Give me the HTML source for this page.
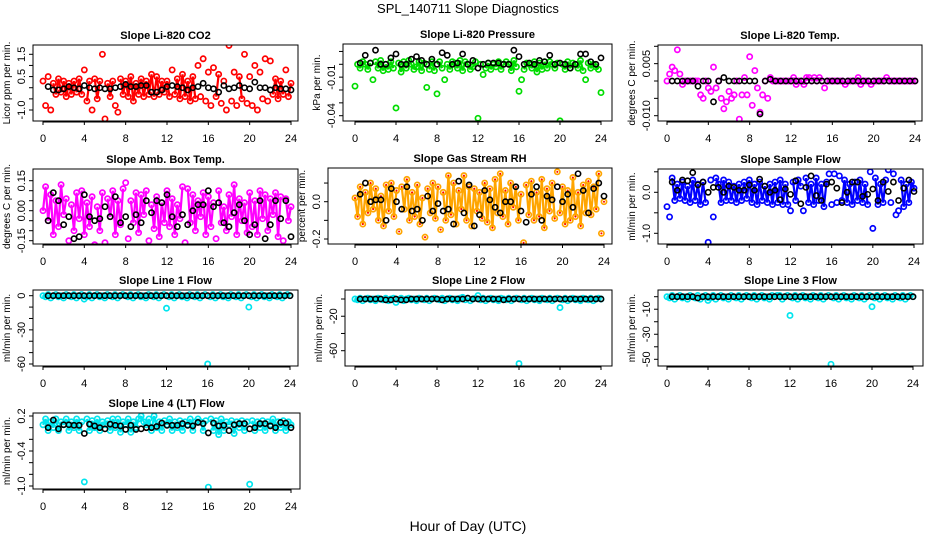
<!DOCTYPE html>
<html><head><meta charset="utf-8">
<style>
html,body{margin:0;padding:0;background:#fff;}
svg{display:block;font-family:"Liberation Sans",sans-serif;}
</style></head>
<body>
<svg id="chart" width="936" height="540" viewBox="0 0 936 540" xmlns="http://www.w3.org/2000/svg">
<rect x="0" y="0" width="936" height="540" fill="#fff"/>
<text x="468" y="13" text-anchor="middle" font-size="13">SPL_140711  Slope Diagnostics</text>
<text x="468" y="531" text-anchor="middle" font-size="14">Hour of Day (UTC)</text>
</svg>
<script>
// ---- data ----
const xTicks = [0,4,8,12,16,20,24];

const co2Colored = [0.3,-0.8,0.5,-1.0,0.2,-0.3,0.4,-0.2,0.3,-0.4,0.2,-0.3,0.3,-0.2,0.4,-0.3,
0.8,-0.6,0.3,-1.0,0.4,-0.5,0.3,1.5,-1.4,0.2,-0.4,0.3,-0.8,-1.1,0.4,-0.3,
0.3,-0.4,0.5,-0.6,0.2,-0.3,0.4,-0.4,0.3,-0.3,0.6,-0.4,0.5,-0.3,0.3,-0.2,
0.3,-0.4,0.8,-0.3,0.4,-0.5,0.6,-0.4,0.3,-0.6,0.5,-0.5,1.0,-0.4,1.3,-0.6,
0.7,-0.8,0.9,-0.4,0.6,-0.7,0.3,-1.0,1.9,-0.6,0.7,-0.8,0.5,-0.5,1.5,-0.7,
0.5,-0.8,1.0,-1.0,0.7,-0.5,1.3,-0.6,1.2,-0.3,0.4,-0.5,0.3,-0.3,0.8,-0.4,0.2];
const co2Black = [0.05,-0.1,-0.1,-0.05,0.05,0,-0.05,0.1,0,-0.05,0,-0.05,-0.05,0,0.05,0.15,0.05,0.05,0.1,0.1,-0.2,-0.2,-0.1,0.05,0.1,0.05,0,-0.1,0,0.05,0.2,0,-0.05,-0.2,0.1,-0.05,0,0.1,0,-0.05,0.25,0,0,-0.1,0,-0.05,-0.05,-0.1];

const presColored = [-0.017,0.0,-0.003,0.002,0.0,-0.004,0.001,-0.012,0.002,-0.003,0.003,-0.005,0.0,-0.004,0.002,-0.003,
-0.034,0.001,-0.006,0.002,-0.003,0.003,0.0,-0.004,-0.002,0.002,-0.005,0.001,-0.018,-0.004,0.002,-0.005,
-0.023,0.002,-0.003,-0.012,0.0,-0.004,0.002,0.001,-0.003,0.003,-0.005,0.002,0.0,-0.004,-0.002,0.002,
-0.042,0.0,-0.008,-0.003,0.001,-0.004,0.0,-0.002,0.002,-0.004,0.0,0.002,0.0,-0.005,0.003,-0.002,
-0.021,-0.012,-0.004,0.001,0.0,-0.003,0.002,-0.006,0.001,-0.004,0.002,-0.003,0.002,0.0,-0.003,0.001,
-0.044,0.0,-0.004,0.002,-0.003,0.001,0.0,-0.003,0.003,-0.005,-0.012,0.001,-0.003,0.0,-0.002,-0.004,-0.022];
const presBlack = [0.001,0.007,0.001,0.011,0.0,0.0,0.005,0.008,0.0,0.0,0.004,0.006,0.003,0.0,0.004,0.0,0.009,0.007,0.0,0.001,0.008,0.0,0.003,-0.003,0.0,0.001,0.001,0.001,0.0,0.0,0.011,0.006,0.0,0.001,0.0,0.003,0.002,0.007,0.0,0.001,0.0,-0.003,0.0,0.008,0.008,0.002,0.0,0.005];

const ltempColored = [0.0,0.002,0.004,0.003,0.009,0.002,-0.001,0.0,0.0,0.0,0.0,0.0,0.0,-0.004,-0.005,0.0,
-0.002,-0.003,0.004,-0.002,0.0,-0.005,-0.008,-0.006,-0.003,-0.005,-0.004,0.0,-0.011,-0.004,0.001,-0.004,
0.007,-0.007,0.003,-0.002,-0.009,-0.004,0.0,-0.005,0.001,0.0,0.0,0.0,0.0,0.0,0.0,0.0,
0.0,0.001,-0.001,0.0,0.0,-0.001,0.001,0.001,0.0,0.001,0.0,0.001,0.0,-0.002,0.0,0.0,
0.0,0.0,0.0,0.0,0.0,-0.001,0.0,0.0,0.0,0.0,0.001,-0.001,0.0,0.0,0.0,-0.001,
0.0,0.0,0.0,0.0,0.0,0.001,0.0,0.0,0.0,0.0,0.0,0.0,0.0,0.0,0.0,0.0,0.0];
const ltempBlack = [0,0,0,0,0,-0.0015,0,0,-0.006,0,0.001,0,0,0,0,0,0,-0.0095,0,0.0005,0,0,0,0,0,0,0,0,0,0,0,0,0,0,0,0,0,0,0,0,0,0,0,0,0,0,0,0];

const ambColored = [0.0,0.12,-0.05,0.08,-0.12,0.05,-0.08,0.13,-0.02,0.06,-0.15,0.03,-0.1,0.09,-0.04,0.1,
-0.12,0.04,-0.08,0.07,-0.17,0.02,-0.1,0.09,-0.16,0.06,-0.03,0.1,-0.12,0.05,-0.07,0.11,
0.14,-0.14,0.05,-0.06,0.09,-0.11,0.08,-0.02,0.1,-0.15,0.03,-0.09,0.07,-0.13,0.04,-0.06,
0.1,-0.08,0.06,-0.12,0.03,-0.04,0.12,-0.16,0.11,-0.06,0.08,-0.1,0.05,-0.03,0.09,-0.12,
0.07,-0.08,0.04,-0.14,0.1,-0.06,0.02,-0.1,0.08,-0.03,0.13,-0.12,0.06,-0.05,0.04,-0.11,
0.09,-0.08,0.05,-0.12,0.1,-0.04,0.08,-0.1,0.06,-0.02,0.09,-0.13,0.07,-0.15,0.06,-0.05,0.02];
const ambBlack = [-0.05,0.09,0.05,-0.07,-0.03,-0.14,-0.13,0.08,-0.03,-0.05,-0.04,0.02,-0.03,0.07,-0.06,-0.03,-0.08,-0.02,-0.06,0.05,-0.01,0.05,0.04,0.08,-0.03,-0.08,-0.02,-0.07,0.0,0.03,0.03,0.1,0.02,0.04,-0.06,-0.08,-0.01,0.03,-0.05,-0.12,-0.07,0.05,-0.14,-0.07,0.05,-0.04,0.05,-0.13];

const rhColored = [0.02,-0.08,0.08,-0.12,0.05,-0.06,0.1,-0.04,0.07,-0.1,0.03,-0.13,0.09,-0.05,0.1,-0.08,
0.06,-0.16,0.08,-0.04,0.12,-0.1,0.05,-0.08,0.09,-0.12,0.02,-0.19,0.07,-0.06,0.1,-0.09,
0.08,-0.15,0.05,-0.1,0.14,-0.07,0.1,-0.12,0.06,-0.04,0.14,-0.1,0.08,-0.13,0.07,-0.05,
0.05,-0.09,0.1,-0.11,0.07,-0.14,0.12,-0.06,0.15,-0.08,0.06,-0.12,0.1,-0.03,0.08,-0.1,
0.04,-0.22,0.09,-0.07,0.11,-0.1,0.05,-0.08,0.12,-0.14,0.07,-0.05,0.1,-0.09,0.16,-0.06,
0.08,-0.12,0.06,-0.1,0.13,-0.08,0.05,-0.13,0.09,-0.06,0.11,-0.07,0.08,-0.04,0.15,-0.17,0.0];
const rhBlack = [0.04,0.1,0.0,0.01,0.01,-0.1,0.07,0.0,-0.04,0.08,-0.05,-0.04,-0.1,0.03,-0.05,-0.01,-0.05,-0.04,-0.12,0.11,-0.06,0.09,-0.13,-0.07,0.06,0.01,-0.03,-0.06,0.0,0.0,0.08,-0.05,-0.11,0.04,0.08,-0.1,0.03,0.01,0.08,0.0,0.04,-0.03,0.15,0.06,-0.06,0.07,0.1,0.03];

const flowColored = [-0.35,-0.6,0.35,-0.2,0.2,-0.15,0.25,-0.2,0.15,-0.25,0.3,-0.2,0.2,-0.3,0.25,-0.25,
-1.22,0.3,-0.6,0.35,0.2,-0.25,0.3,-0.2,0.25,-0.2,0.15,-0.25,0.2,-0.2,0.25,-0.15,
0.3,-0.25,0.2,-0.3,0.25,-0.2,0.15,-0.25,0.2,-0.3,0.25,-0.25,0.3,-0.3,0.2,-0.3,
-0.45,0.25,-0.2,0.3,0.15,-0.45,0.35,-0.25,0.2,-0.3,0.35,-0.2,0.2,-0.35,0.25,0.45,
-0.3,0.45,-0.25,0.4,-0.2,0.3,-0.25,0.2,-0.3,0.25,-0.2,0.3,-0.25,0.2,-0.3,0.5,
-0.88,0.35,-0.3,0.2,-0.25,0.3,0.55,-0.25,0.45,-0.55,-0.45,0.3,-0.35,0.2,-0.25,0.25,0.1];
const flowBlack = [0.25,0.05,0.3,0.28,0.48,0.18,0.25,0.0,0.12,0.12,0.0,0.15,0.12,0.05,0.05,0.18,0.05,0.32,0.15,0.0,0.05,-0.18,0.08,-0.05,0.28,-0.28,0.12,0.4,-0.08,-0.2,0.2,0.25,0.1,-0.25,0.0,0.25,0.25,-0.1,-0.05,0.08,-0.2,0.25,0.02,0.25,-0.2,0.1,0.3,0.02];

const line1Colored = [0,-1,1,-2,0,1,-1,0,-2,1,0,-1,1,-2,0,1,
-3,-1,1,-2,0,1,-1,0,-2,1,0,-1,1,-2,0,1,
0,-1,1,-2,0,1,-1,0,-2,1,0,-1,1,-2,0,1,
-11,-1,1,-2,0,1,-1,0,-2,1,0,-1,1,-2,0,1,
-60,-1,1,-2,0,1,-1,0,-2,1,0,-1,1,-2,0,1,
-10,-1,1,-2,0,1,-1,0,-2,1,0,-1,1,-2,0,1,0];
const line1Black = [0,0,0,0,0,0,0,0,0,0,0,0,0,0,0,0,0,0,0,0,0,0,0,0,0,0,0,0,0,0,0,0,0,0,0,0,0,0,0,0,0,0,0,0,0,0,0,0];

const line2Colored = [0,-1,1,-2,0,1,-1,0,-2,1,0,-1,1,-2,0,1,
-4,-1,1,-2,0,1,-1,0,-2,1,0,-1,1,-2,0,1,
0,-1,1,-2,0,1,-1,0,-2,1,2,-1,1,-2,0,1,
4,-1,1,-2,0,1,-1,0,-2,1,0,-1,1,-2,0,1,
-75,-1,1,-2,0,1,-1,0,-2,1,0,-1,1,-2,0,1,
-10,-1,1,-2,0,1,-1,0,-2,1,0,-1,1,-2,0,1,0];
const line2Black = [0,0,0,0,0,-1,-1,0,-1,-1,0,0,0,0,0,0,-1,0,0,0,0,1,0,0,0,0,0,0,-1,0,0,0,0,0,0,0,0,0,0,0,0,0,0,0,0,0,0,0];

const line3Colored = [0,-1,1,-2,0,1,-1,0,-2,1,0,-1,1,-2,0,1,
-3,-1,1,-2,0,1,-1,0,-2,1,0,-1,1,-2,0,1,
0,-1,1,-2,0,1,-1,0,-2,1,0,1,1,-2,0,1,
-15,-1,1,-2,0,1,-1,0,-2,1,0,-1,1,-2,0,1,
-54,-1,1,-2,0,1,-1,0,-2,1,0,-1,1,-2,0,1,
-8,-1,1,-2,0,1,-1,0,-2,1,0,-1,1,-2,0,1,0];
const line3Black = [0,0,0,0,0,-1,0,0,0,0,0,0,0,0,0,0,0,0,0,0,0,0,0,0,0,0,0,0,0,0,0,0,0,0,0,0,0,0,0,0,0,0,0,0,0,0,0,0];

const line4Colored = [0.05,0.15,-0.05,0.1,0.0,0.15,-0.05,0.1,0.05,0.15,-0.05,0.1,0.0,0.15,-0.05,0.1,
-0.93,0.15,-0.05,0.12,0.0,0.15,-0.05,0.1,0.05,0.12,-0.05,0.15,0.0,0.15,-0.08,0.1,
0.05,0.15,-0.08,0.1,0.0,0.15,0.2,0.1,0.05,0.15,-0.05,0.2,0.0,0.1,-0.05,0.12,
0.05,0.15,-0.05,0.1,0.0,0.12,-0.05,0.1,0.05,0.15,-0.05,0.1,0.15,0.1,-0.05,0.12,
-1.02,0.15,-0.05,0.12,-0.12,0.15,-0.05,0.1,0.05,0.12,-0.1,0.1,0.0,0.12,-0.05,0.1,
-0.97,0.12,-0.05,0.1,0.0,0.12,-0.05,0.1,0.05,0.15,-0.05,0.1,0.0,0.12,-0.05,0.1,0.05];
const line4Black = [0.0,0.13,-0.02,0.05,0.05,0.04,0.04,-0.1,0.06,0.03,0.0,-0.02,0.06,0.04,0.03,-0.03,0.04,-0.03,-0.02,0.0,0.0,0.02,0.08,0.04,0.04,0.04,0.07,0.04,0.03,0.09,0.07,-0.09,0.08,0.03,0.04,-0.05,0.05,0.07,0.07,-0.02,0.0,0.07,0.07,0.03,0.0,0.09,0.08,0.0];

// ---- panel layout (positions/styles only) ----
const panels = [
 {id:'co2',title:'Slope Li-820 CO2',ylab:'Licor ppm per min.',l:33,r:298,t:45,b:121,x0:43,x24:291,v1:1.5,p1:54.3,v2:-1.0,p2:110,
  ticks:[-1,-0.5,0,0.5,1,1.5],labels:[[-1,'-1.0'],[0.5,'0.5'],[1.5,'1.5']],color:'#ff0000',band:[-0.65,0.65],colored:co2Colored,black:co2Black},
 {id:'pressure',title:'Slope Li-820 Pressure',ylab:'kPa per min.',l:343,r:612,t:44,b:121,x0:355,x24:601,v1:0,p1:64.3,v2:-0.04,p2:115.7,
  ticks:[0.01,0,-0.01,-0.02,-0.03,-0.04],labels:[[-0.01,'-0.01'],[-0.04,'-0.04']],color:'#00dd00',band:[-0.007,0.004],colored:presColored,black:presBlack},
 {id:'licor-temp',title:'Slope Li-820 Temp.',ylab:'degrees C per min.',l:658,r:922,t:45,b:121,x0:667,x24:915,v1:0,p1:81,v2:-0.01,p2:115.7,
  ticks:[0.01,0.005,0,-0.005,-0.01],labels:[[0.005,'0.005'],[-0.01,'-0.010']],color:'#ff00ff',band:[-0.0012,0.0012],colored:ltempColored,black:ltempBlack},
 {id:'amb-box-temp',title:'Slope Amb. Box Temp.',ylab:'degrees C per min.',l:33,r:298,t:169,b:244,x0:43,x24:291,v1:0,p1:210.7,v2:-0.15,p2:240.7,
  ticks:[-0.15,-0.1,-0.05,0,0.05,0.1,0.15],labels:[[-0.15,'-0.15'],[0,'0.00'],[0.15,'0.15']],color:'#ff00ff',band:[-0.13,0.13],colored:ambColored,black:ambBlack},
 {id:'gas-rh',title:'Slope Gas Stream RH',ylab:'percent per min.',l:328,r:612,t:168,b:244,x0:355,x24:604,v1:0,p1:201.7,v2:-0.2,p2:239,
  ticks:[-0.2,-0.1,0,0.1],labels:[[-0.2,'-0.2'],[0,'0.0']],color:'#ffa500',band:[-0.14,0.15],colored:rhColored,black:rhBlack},
 {id:'sample-flow',title:'Slope Sample Flow',ylab:'ml/min per min.',l:658,r:923,t:169,b:244,x0:667,x24:914,v1:0,p1:192.3,v2:-1.0,p2:233.3,
  ticks:[-1,-0.5,0,0.5],labels:[[-1,'-1.0'],[0,'0.0']],color:'#0000ff',band:[-0.36,0.36],colored:flowColored,black:flowBlack},
 {id:'line1-flow',title:'Slope Line 1 Flow',ylab:'ml/min per min.',l:33,r:298,t:290,b:366,x0:43,x24:290,v1:0,p1:295.7,v2:-60,p2:364,
  ticks:[0,-10,-20,-30,-40,-50,-60],labels:[[0,'0'],[-30,'-30'],[-60,'-60']],color:'#00e5ee',band:[-3,3],colored:line1Colored,black:line1Black},
 {id:'line2-flow',title:'Slope Line 2 Flow',ylab:'ml/min per min.',l:345,r:612,t:290,b:366,x0:355,x24:601,v1:0,p1:299,v2:-60,p2:350.7,
  ticks:[0,-20,-40,-60],labels:[[-20,'-20'],[-60,'-60']],color:'#00e5ee',band:[-3,3],colored:line2Colored,black:line2Black},
 {id:'line3-flow',title:'Slope Line 3 Flow',ylab:'ml/min per min.',l:658,r:923,t:290,b:366,x0:667,x24:913,v1:0,p1:296.7,v2:-50,p2:359.3,
  ticks:[0,-10,-20,-30,-40,-50],labels:[[-10,'-10'],[-30,'-30'],[-50,'-50']],color:'#00e5ee',band:[-3,3],colored:line3Colored,black:line3Black},
 {id:'line4-flow',title:'Slope Line 4 (LT) Flow',ylab:'ml/min per min.',l:33,r:300,t:413,b:489,x0:43,x24:291,v1:0.2,p1:416,v2:-1.0,p2:486,
  ticks:[0.2,0,-0.2,-0.4,-0.6,-0.8,-1.0],labels:[[0.2,'0.2'],[-0.4,'-0.4'],[-1.0,'-1.0']],color:'#00e5ee',band:[-0.13,0.21],colored:line4Colored,black:line4Black}
];

const NS='http://www.w3.org/2000/svg';
const svg=document.getElementById('chart');
function mk(tag,attrs,parent){const e=document.createElementNS(NS,tag);for(const k in attrs)e.setAttribute(k,attrs[k]);(parent||svg).appendChild(e);return e;}

panels.forEach(p=>{
  const g=mk('g',{});
  
  
  const xs=h=>p.x0+(h/24)*(p.x24-p.x0);
  const ys=v=>p.p1+(v-p.v1)*(p.p2-p.p1)/(p.v2-p.v1);
  const inBand=v=>v>=p.band[0]&&v<=p.band[1];
  const cx=(p.l+p.r)/2;
  const title=mk('text',{x:cx,y:p.t-6,'text-anchor':'middle','font-size':11,'font-weight':'bold'},g);
  title.textContent=p.title;
  
  
  const cid='clip-'+p.id;
  const cp=mk('clipPath',{id:cid},g);
  mk('rect',{x:p.l,y:p.t,width:p.r-p.l,height:p.b-p.t},cp);
  const pts=mk('g',{'clip-path':'url(#'+cid+')'},g);
  
  
  // dense cloud: connect consecutive in-band observations
  let d='';
  for(let i=1;i<p.colored.length;i++){
    const a=p.colored[i-1], b=p.colored[i];
    if(inBand(a)&&inBand(b)) d+='M'+xs((i-1)/4).toFixed(1)+' '+ys(a).toFixed(1)+'L'+xs(i/4).toFixed(1)+' '+ys(b).toFixed(1);
  }
  const cloud=mk('path',{d:d,fill:'none',stroke:p.color,'stroke-width':2.2},pts);
  
  
  p.colored.forEach((v,i)=>{
    const h=i/4;
    const c=mk('circle',{cx:xs(h),cy:ys(v),r:2.6,fill:'none',stroke:p.color,'stroke-width':1.7},pts);
    
    
    if(p.id==='gas-rh'){
      const dd=mk('circle',{cx:xs(h),cy:ys(v),r:1,fill:'#ff0000'},pts);
      
      
    }
  });
  p.black.forEach((v,i)=>{
    const h=(i+1)*0.5;
    const c=mk('circle',{cx:xs(h),cy:ys(v),r:2.6,fill:'none',stroke:'#000','stroke-width':1.6},pts);
    
    
  });
  const box=mk('rect',{x:p.l,y:p.t,width:p.r-p.l,height:p.b-p.t,fill:'none',stroke:'#000','stroke-width':1},g);
  
  
  const xa=mk('g',{},g);
  
  
  mk('line',{x1:xs(0),x2:xs(24),y1:p.b+1,y2:p.b+1,stroke:'#000'},xa);
  xTicks.forEach(t=>{
    mk('line',{x1:xs(t),x2:xs(t),y1:p.b,y2:p.b+4,stroke:'#000'},xa);
    const tl=mk('text',{x:xs(t),y:p.b+21,'text-anchor':'middle','font-size':11},xa);
    tl.textContent=t;
    
    
  });
  const ya=mk('g',{},g);
  
  
  p.ticks.forEach(t=>{
    mk('line',{x1:p.l-4,x2:p.l,y1:ys(t),y2:ys(t),stroke:'#000'},ya);
  });
  p.labels.forEach(([v,s])=>{
    const tx=p.l-8, ty=ys(v);
    const tl=mk('text',{x:tx,y:ty,'text-anchor':'middle','font-size':11,transform:'rotate(-90 '+tx+' '+ty+')'},ya);
    tl.textContent=s;
    
    
  });
  const lx=p.l-23, ly=(p.t+p.b)/2;
  const yl=mk('text',{x:lx,y:ly,'text-anchor':'middle','font-size':10,transform:'rotate(-90 '+lx+' '+ly+')'},g);
  yl.textContent=p.ylab;
  
  
});
</script>
</body></html>
